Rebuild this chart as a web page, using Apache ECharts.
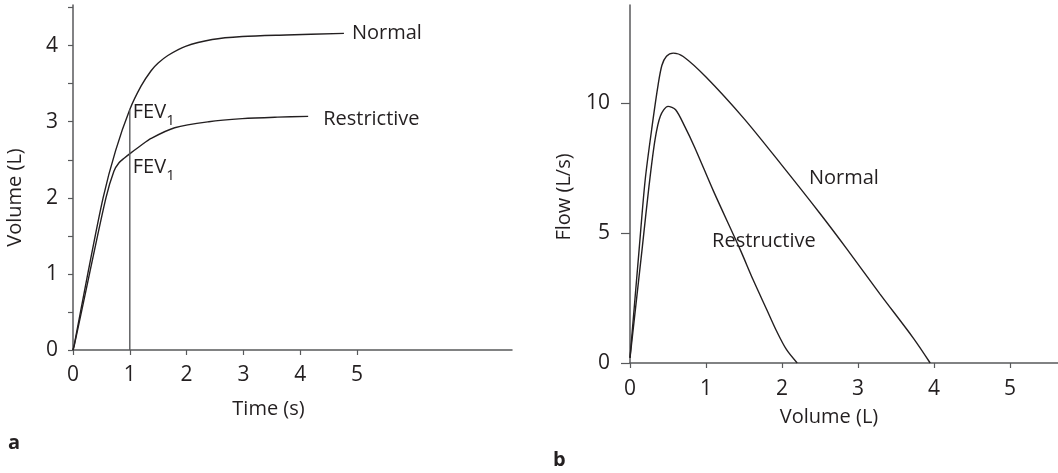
<!DOCTYPE html>
<html>
<head>
<meta charset="utf-8">
<script src="https://cdn.jsdelivr.net/npm/echarts@6/dist/echarts.min.js"></script>
<style>
  html, body { margin: 0; padding: 0; background: #fff; }
  #chart { width: 1058px; height: 473px; }
</style>
</head>
<body>
<div id="chart"></div>
<script>
// (a) Volume–time spirogram
const normalTime = [0, 0.02, 0.26, 0.53, 0.75, 1.0, 1.2, 1.375, 1.5, 1.67, 1.98, 2.45, 2.98, 3.75, 4.77];
const normalVolume = [0, 0.06, 1.0, 2.0, 2.62, 3.16, 3.47, 3.67, 3.77, 3.87, 3.99, 4.08, 4.12, 4.14, 4.16];
const restrictiveTime = [0, 0.02, 0.29, 0.58, 0.72, 0.81, 0.9, 1.02, 1.2, 1.375, 1.79, 2.39, 2.98, 3.6, 4.14];
const restrictiveVolume = [0, 0.05, 1.0, 2.0, 2.35, 2.46, 2.52, 2.59, 2.69, 2.78, 2.92, 3.0, 3.04, 3.06, 3.07];
const fev1Time = 1;
const fev1Normal = 3.16;
const fev1Restrictive = 2.59;

// (b) Flow–volume loops (expiratory limb)
const normalLoopVolume = [0, 0.12, 0.2, 0.3, 0.37, 0.42, 0.48, 0.57, 0.7, 1.0, 1.5, 2.0, 2.5, 2.85, 3.29, 3.73, 3.95];
const normalLoopFlow = [0.2, 4.36, 7.05, 9.3, 10.7, 11.45, 11.8, 11.92, 11.79, 11.0, 9.4, 7.6, 5.75, 4.4, 2.65, 0.95, 0];
const restrictiveLoopVolume = [0, 0.16, 0.25, 0.33, 0.40, 0.5, 0.6, 0.72, 0.85, 1.1, 1.45, 1.62, 1.80, 1.93, 2.06, 2.20];
const restrictiveLoopFlow = [0.2, 4.4, 6.8, 8.6, 9.5, 9.87, 9.74, 9.1, 8.3, 6.6, 4.36, 3.2, 2.05, 1.22, 0.51, 0];

// Tick and label positions
const timeTicks = [0, 1, 2, 3, 4, 5];
const volumeTicks = [0, 0.5, 1, 1.5, 2, 2.5, 3, 3.5, 4, 4.5];
const volumeLabels = [0, 1, 2, 3, 4];
const loopVolumeTicks = [0, 1, 2, 3, 4, 5];
const flowTicks = [0, 5, 10];

// Text annotations
const normalName = 'Normal';
const restrictiveName = 'Restrictive';
const restructiveLabel = 'Restructive';
const normalLoopLabel = [2.355, 7.09];
const restructiveLoopLabel = [1.08, 4.68];

const zip = (xs, ys) => xs.map((x, i) => [x, ys[i]]);

const INK = '#231f20';
const AXIS = '#58595b';
const FONT = '"Open Sans", "Noto Sans", sans-serif';
const TICK_FONT = 21;

function axisBase(extra) {
  return Object.assign({
    type: 'value',
    min: 0,
    splitLine: { show: false },
    axisLine: { show: true, lineStyle: { color: AXIS, width: 1.5 } },
    nameLocation: 'middle'
  }, extra);
}
function ticks(values, length) {
  return { show: true, length: length, lineStyle: { color: AXIS, width: 1.2 }, customValues: values };
}
function labels(values, margin) {
  return { color: INK, fontSize: TICK_FONT, fontFamily: FONT, margin: margin, customValues: values };
}
function nameStyle(padding) {
  return { color: INK, fontSize: 20, fontFamily: FONT, padding: padding };
}

const chart = echarts.init(document.getElementById('chart'), null, { renderer: 'canvas' });

const fevRich = {
  m: { fontSize: 20, color: INK, fontFamily: FONT, verticalAlign: 'top', lineHeight: 26 },
  s: { fontSize: 15, color: INK, fontFamily: FONT, verticalAlign: 'bottom', lineHeight: 26 }
};

chart.setOption({
  animation: false,
  backgroundColor: '#fff',
  textStyle: { fontFamily: FONT },
  grid: [
    { left: 73, top: 5, width: 439, height: 345 },
    { left: 630, top: 5, width: 428, height: 358 }
  ],
  xAxis: [
    axisBase({
      gridIndex: 0, max: 439 / 56.8,
      name: 'Time (s)', nameGap: 49, nameTextStyle: nameStyle([0, 48, 0, 0]),
      axisTick: ticks(timeTicks, 5), axisLabel: labels(timeTicks, 15)
    }),
    axisBase({
      gridIndex: 1, max: 428 / 76,
      name: 'Volume (L)', nameGap: 44, nameTextStyle: nameStyle([0, 30, 0, 0]),
      axisTick: ticks(loopVolumeTicks, 5), axisLabel: labels(loopVolumeTicks, 16)
    })
  ],
  yAxis: [
    axisBase({
      gridIndex: 0, max: 345 / 76.1,
      name: 'Volume (L)', nameGap: 48, nameTextStyle: nameStyle([0, 40, 0, 0]),
      axisTick: ticks(volumeTicks, 5), axisLabel: labels(volumeLabels, 15)
    }),
    axisBase({
      gridIndex: 1, max: 358 / 26,
      name: 'Flow (L/s)', nameGap: 56, nameTextStyle: nameStyle([0, 26, 0, 0]),
      axisTick: ticks(flowTicks, 9), axisLabel: labels(flowTicks, 20)
    })
  ],
  series: [
    {
      type: 'line', name: normalName, xAxisIndex: 0, yAxisIndex: 0,
      data: zip(normalTime, normalVolume), smooth: 0.3, showSymbol: false,
      lineStyle: { color: INK, width: 1.4 },
      endLabel: { show: true, formatter: normalName, color: INK, fontSize: 20, fontFamily: FONT, distance: 8 }
    },
    {
      type: 'line', name: restrictiveName, xAxisIndex: 0, yAxisIndex: 0,
      data: zip(restrictiveTime, restrictiveVolume), smooth: 0.3, showSymbol: false,
      lineStyle: { color: INK, width: 1.4 },
      endLabel: { show: true, formatter: restrictiveName, color: INK, fontSize: 20, fontFamily: FONT, distance: 15, offset: [0, 3] }
    },
    {
      // FEV1 marker at t = 1 s
      type: 'line', xAxisIndex: 0, yAxisIndex: 0,
      data: [[fev1Time, 0], [fev1Time, fev1Normal]], showSymbol: false,
      lineStyle: { color: AXIS, width: 1.4 }
    },
    {
      type: 'scatter', xAxisIndex: 0, yAxisIndex: 0, symbolSize: 0, silent: true,
      itemStyle: { opacity: 1 },
      data: [[fev1Time, fev1Normal - 0.08], [fev1Time, fev1Restrictive - 0.23]],
      label: { show: true, position: 'right', distance: 3, formatter: '{m|FEV}{s|1}', rich: fevRich }
    },
    {
      type: 'line', name: normalName, xAxisIndex: 1, yAxisIndex: 1,
      data: zip(normalLoopVolume, normalLoopFlow), smooth: 0.3, showSymbol: false,
      lineStyle: { color: INK, width: 1.4 }
    },
    {
      type: 'line', name: restructiveLabel, xAxisIndex: 1, yAxisIndex: 1,
      data: zip(restrictiveLoopVolume, restrictiveLoopFlow), smooth: 0.3, showSymbol: false,
      lineStyle: { color: INK, width: 1.4 }
    },
    {
      type: 'scatter', xAxisIndex: 1, yAxisIndex: 1, symbolSize: 0, silent: true,
      itemStyle: { opacity: 1 },
      data: [
        { value: normalLoopLabel, name: normalName },
        { value: restructiveLoopLabel, name: restructiveLabel }
      ],
      label: { show: true, position: 'right', distance: 0, formatter: '{b}', color: INK, fontSize: 20, fontFamily: FONT }
    }
  ],
  graphic: [
    { type: 'text', left: 8, top: 433, style: { text: 'a', fontSize: 20, fontWeight: 'bold', fill: INK, fontFamily: FONT } },
    { type: 'text', left: 553, top: 450, style: { text: 'b', fontSize: 20, fontWeight: 'bold', fill: INK, fontFamily: FONT } }
  ]
});
</script>
</body>
</html>
